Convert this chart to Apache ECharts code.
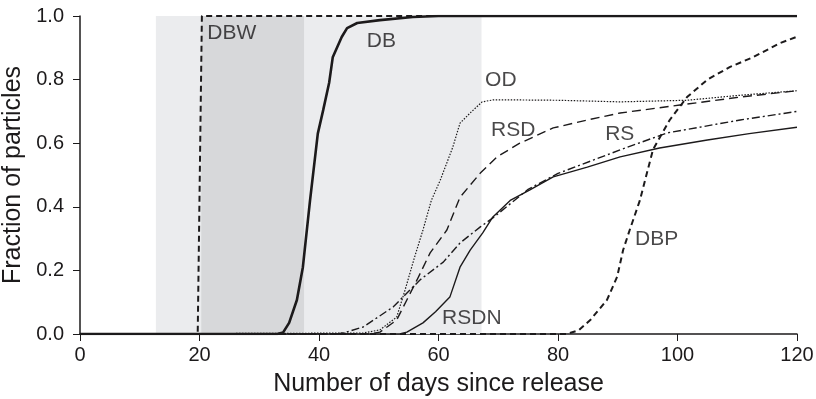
<!DOCTYPE html>
<html>
<head>
<meta charset="utf-8">
<script src="https://cdn.jsdelivr.net/npm/echarts@6/dist/echarts.min.js"></script>
<style>
  html, body { margin: 0; padding: 0; background: #fff; }
  #chart { width: 816px; height: 399px; }
</style>
</head>
<body>
<div id="chart"></div>
<script>
// days and fraction
var dbwX = [0, 19.7, 20.4, 120];
var dbwY = [0, 0, 1, 1];

var dbX = [0, 33, 34, 35, 36.3, 37.3, 38.5, 39.8, 40.7, 41.7, 42.3, 43.8, 44.7, 46.4, 50.2, 55.7, 60, 120];
var dbY = [0, 0, 0.005, 0.035, 0.107, 0.21, 0.42, 0.63, 0.704, 0.79, 0.87, 0.934, 0.962, 0.978, 0.987, 0.997, 1, 1];

var odX = [0, 47.4, 50.2, 53, 54.4, 56, 57.4, 58.8, 60.3, 62.4, 63.6, 65.3, 67.3, 69.1, 73.6, 80, 90.4, 101.6, 110, 120];
var odY = [0, 0.003, 0.013, 0.053, 0.138, 0.242, 0.327, 0.42, 0.484, 0.588, 0.663, 0.695, 0.73, 0.736, 0.736, 0.735, 0.73, 0.735, 0.75, 0.765];

var rsdX = [0, 48.5, 50.2, 53, 54.7, 56.4, 58.6, 61.4, 63.6, 67, 69.8, 73.6, 79.2, 84.9, 90.4, 100.4, 110.5, 120];
var rsdY = [0, 0, 0.006, 0.044, 0.107, 0.17, 0.255, 0.327, 0.43, 0.506, 0.557, 0.6, 0.648, 0.673, 0.695, 0.72, 0.745, 0.765];

var rsX = [0, 43, 44, 47.4, 52.4, 56.9, 60.8, 63.6, 67, 69.1, 75, 80, 85.9, 90.4, 98.2, 110.5, 120];
var rsY = [0, 0, 0.003, 0.022, 0.085, 0.17, 0.226, 0.286, 0.337, 0.365, 0.455, 0.505, 0.547, 0.579, 0.632, 0.673, 0.7];

var rsdnX = [0, 53.5, 54.7, 57.4, 59.5, 61.9, 63.6, 65.3, 67.4, 69.1, 72, 75.3, 79.2, 84.9, 90.4, 97, 105, 112, 120];
var rsdnY = [0, 0, 0.006, 0.035, 0.07, 0.116, 0.21, 0.264, 0.318, 0.368, 0.42, 0.453, 0.494, 0.525, 0.557, 0.585, 0.61, 0.63, 0.65];

var dbpX = [0, 81.5, 83.5, 85.4, 88.2, 89.9, 90.9, 92, 93.7, 95.9, 98.7, 101.6, 105, 108.8, 112.6, 117.2, 120];
var dbpY = [0, 0, 0.012, 0.044, 0.107, 0.18, 0.264, 0.327, 0.42, 0.58, 0.673, 0.745, 0.8, 0.84, 0.87, 0.915, 0.935];

// shaded periods (days)
var shadeLight = [12.7, 67.2];
var shadeDark = [20.3, 37.5];

// curve labels: name, day, fraction (left-middle of text)
var labelNames = ['DBW', 'DB', 'OD', 'RSD', 'RS', 'DBP', 'RSDN'];
var labelX = [21.3, 48.0, 67.8, 68.8, 87.9, 92.9, 60.6];
var labelY = [0.947, 0.921, 0.799, 0.642, 0.629, 0.299, 0.05];

function pairs(xs, ys) {
  var out = [];
  for (var i = 0; i < xs.length; i++) out.push([xs[i], ys[i]]);
  return out;
}

var ink = '#1c1a1b';
var font = 'Liberation Sans, Arial, sans-serif';

var chart = echarts.init(document.getElementById('chart'));

function lineSeries(name, xs, ys, width, type) {
  return {
    name: name,
    type: 'line',
    data: pairs(xs, ys),
    symbol: 'none',
    z: 3,
    animation: false,
    lineStyle: { color: ink, width: width, type: type }
  };
}

var labelData = [];
for (var i = 0; i < labelNames.length; i++) {
  labelData.push({ value: [labelX[i], labelY[i]], name: labelNames[i] });
}

var option = {
  backgroundColor: '#fff',
  animation: false,
  grid: { left: 80, right: 19, top: 16, bottom: 65, containLabel: false, outerBoundsMode: 'none' },
  xAxis: {
    type: 'value',
    min: 0, max: 120, interval: 20,
    name: 'Number of days since release',
    nameLocation: 'middle',
    nameGap: 38,
    nameTextStyle: { color: ink, fontSize: 25, fontFamily: font },
    axisLine: { show: true, lineStyle: { color: ink, width: 1.5 } },
    axisTick: { show: true, length: 7, lineStyle: { color: ink, width: 1 } },
    axisLabel: { color: ink, fontSize: 20, fontFamily: font, margin: 11 },
    splitLine: { show: false }
  },
  yAxis: {
    type: 'value',
    min: 0, max: 1, interval: 0.2,
    name: 'Fraction of particles',
    nameLocation: 'middle',
    nameGap: 52,
    nameTextStyle: { color: ink, fontSize: 25, fontFamily: font },
    axisLine: { show: true, lineStyle: { color: ink, width: 1.5 } },
    axisTick: { show: true, length: 7, lineStyle: { color: ink, width: 1 } },
    axisLabel: {
      color: ink, fontSize: 20, fontFamily: font, margin: 16,
      formatter: function (v) { return v.toFixed(1); }
    },
    splitLine: { show: false }
  },
  series: [
    {
      name: 'shade',
      type: 'line',
      data: [],
      z: 1,
      silent: true,
      markArea: {
        silent: true,
        data: [
          [{ xAxis: shadeLight[0], yAxis: 0, itemStyle: { color: '#ebecee' } }, { xAxis: shadeLight[1], yAxis: 1 }],
          [{ xAxis: shadeDark[0], yAxis: 0, itemStyle: { color: '#d7d8da' } }, { xAxis: shadeDark[1], yAxis: 1 }]
        ]
      }
    },
    lineSeries('RSDN', rsdnX, rsdnY, 1.4, 'solid'),
    lineSeries('RS', rsX, rsY, 1.4, [8, 3, 2, 3]),
    lineSeries('RSD', rsdX, rsdY, 1.4, [9, 5]),
    lineSeries('OD', odX, odY, 1.2, [1.5, 1.5]),
    lineSeries('DBP', dbpX, dbpY, 2, [6, 4]),
    lineSeries('DBW', dbwX, dbwY, 2, [6, 4]),
    lineSeries('DB', dbX, dbY, 2.6, 'solid'),
    {
      name: 'labels',
      type: 'scatter',
      data: labelData,
      symbolSize: 0,
      z: 5,
      silent: true,
      label: {
        show: true,
        position: 'right',
        distance: 0,
        formatter: '{b}',
        color: ink,
        fontSize: 21,
        fontFamily: font
      }
    }
  ]
};

chart.setOption(option);
</script>
</body>
</html>
